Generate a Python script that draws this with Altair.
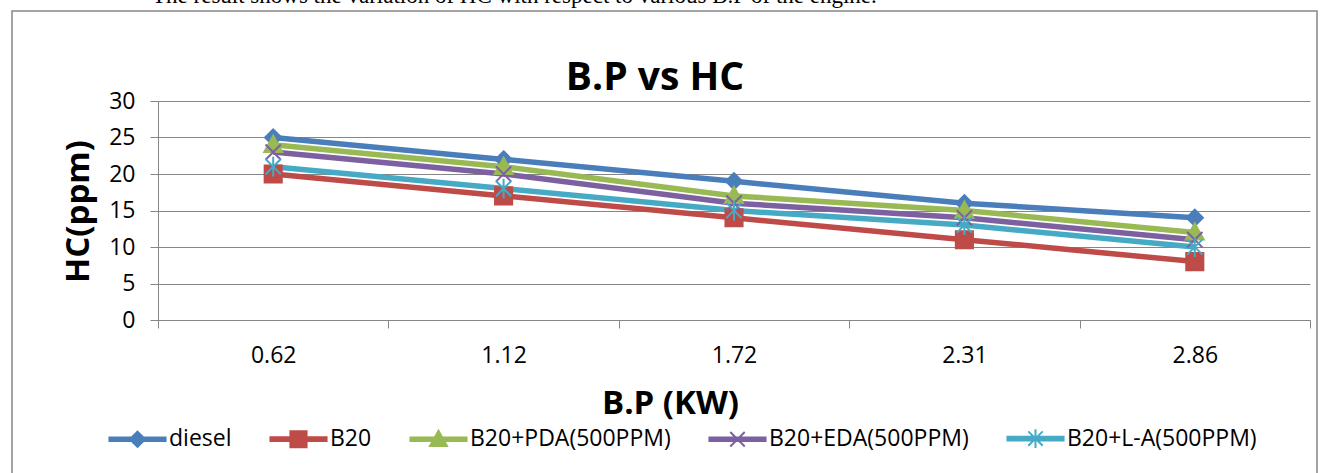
import altair as alt
import pandas as pd

# ---- data ----
bp_labels = ["0.62", "1.12", "1.72", "2.31", "2.86"]
series_names = ["diesel", "B20", "B20+PDA(500PPM)", "B20+EDA(500PPM)", "B20+L-A(500PPM)"]
diesel = [25, 22, 19, 16, 14]
b20 = [20, 17, 14, 11, 8]
b20_pda = [24, 21, 17, 15, 12]
b20_eda = [23, 20, 16, 14, 11]
b20_la = [21, 18, 15, 13, 10]
y_ticks = [0, 5, 10, 15, 20, 25, 30]

chart_title = "B.P vs HC"
x_title = "B.P (KW)"
y_title = "HC(ppm)"
caption = "The result shows the variation of HC with respect to various B.P of the engine."

# ---- styles ----
colors = ["#4A7EBB", "#BE4B48", "#98B954", "#7D60A0", "#46AAC5"]
marker_paths = [
    "M0,-0.9L0.9,0L0,0.9L-0.9,0Z",
    "M-0.95,-0.95H0.95V0.95H-0.95Z",
    "M0,-1L1,0.8L-1,0.8Z",
    "M-0.85,-0.85L0.85,0.85M-0.85,0.85L0.85,-0.85",
    "M-0.85,-0.85L0.85,0.85M-0.85,0.85L0.85,-0.85M0,-1.1L0,1.1",
]
legend_bar = "M-3.3,-0.22H3.3V0.22H-3.3Z"
legend_paths = [legend_bar + p for p in marker_paths]
grid_gray = "#868686"
font = "Open Sans"

all_values = [diesel, b20, b20_pda, b20_eda, b20_la]
rows = []
for name, vals in zip(series_names, all_values):
    for bp, v in zip(bp_labels, vals):
        rows.append({"bp": bp, "hc": v, "series": name})
df = pd.DataFrame(rows)

x_enc = alt.X(
    "bp:O",
    sort=bp_labels,
    scale=alt.Scale(type="band", domain=bp_labels, paddingInner=0, paddingOuter=0),
    axis=alt.Axis(
        title=x_title, labelAngle=0, tickBand="extent", grid=False,
        labelFont=font, labelFontSize=23, labelColor="black", labelPadding=16,
        tickSize=8, tickColor=grid_gray, domainColor=grid_gray,
        titleFont=font, titleFontSize=33, titleFontWeight="bold", titleColor="black",
        titleX=512, titleY=93, titleBaseline="alphabetic", titleAlign="center",
    ),
)
y_enc = alt.Y(
    "hc:Q",
    scale=alt.Scale(domain=[0, 30], nice=False),
    axis=alt.Axis(
        title=y_title, values=y_ticks, grid=True, gridColor=grid_gray,
        labelFont=font, labelFontSize=23, labelColor="black", labelPadding=15,
        tickSize=8, tickColor=grid_gray, domainColor=grid_gray,
        titleFont=font, titleFontSize=33, titleFontWeight="bold", titleColor="black",
        titleX=-70, titleY=110, titleBaseline="alphabetic", titleAlign="center", titleAngle=-90,
    ),
)

def cscale():
    return alt.Scale(domain=series_names, range=colors)

frame = alt.Chart(pd.DataFrame({"k": [0]})).mark_rect(
    fillOpacity=0, stroke=grid_gray, strokeWidth=1.5
).encode(x=alt.value(-146), x2=alt.value(1159), y=alt.value(-90), y2=alt.value(420))

cap = alt.Chart(pd.DataFrame({"t": [caption]})).mark_text(
    align="left", baseline="alphabetic", font="Liberation Serif", fontSize=23, color="black"
).encode(text="t:N", x=alt.value(-6), y=alt.value(-98))

title_text = alt.Chart(pd.DataFrame({"t": [chart_title]})).mark_text(
    align="center", baseline="alphabetic", font=font, fontSize=39, fontWeight="bold", color="black"
).encode(text="t:N", x=alt.value(497), y=alt.value(-11))

lines = alt.Chart(df).mark_line(strokeWidth=5.5).encode(
    x=x_enc, y=y_enc,
    color=alt.Color("series:N", scale=cscale(), legend=None, sort=series_names),
)

points = alt.Chart(df).mark_point(filled=True, size=324, strokeWidth=2, opacity=1).encode(
    x=x_enc, y=y_enc,
    fill=alt.Fill("series:N", scale=cscale(), legend=None),
    stroke=alt.Stroke("series:N", scale=cscale(), legend=None),
    shape=alt.Shape("series:N", scale=alt.Scale(domain=series_names, range=marker_paths), legend=None),
)

leg = alt.Legend(title=None)
legend_layer = alt.Chart(df).transform_filter("datum.hc < 0").mark_point(
    filled=True, size=289, strokeWidth=2, opacity=1
).encode(
    x=x_enc, y=y_enc,
    fill=alt.Fill("series:N", scale=cscale(), legend=leg),
    stroke=alt.Stroke("series:N", scale=cscale(), legend=leg),
    shape=alt.Shape("series:N", scale=alt.Scale(domain=series_names, range=legend_paths), legend=leg),
)

chart = alt.layer(frame, cap, title_text, lines, points, legend_layer).resolve_scale(
    fill="independent", stroke="independent", shape="independent"
).properties(
    width=1152, height=219,
    padding={"left": 158, "top": 101, "right": 19, "bottom": 153},
    autosize=alt.AutoSizeParams(type="none"),
).configure_view(stroke=None).configure_legend(
    orient="none", legendX=-52, legendY=326, direction="horizontal", columns=5,
    columnPadding=34, symbolOffset=20, labelOffset=20, labelFont=font, labelFontSize=23,
    labelColor="black", symbolSize=289, symbolStrokeWidth=2, padding=0, labelLimit=400,
)

chart.save("out.html", embed_options={"renderer": "svg", "actions": False})
